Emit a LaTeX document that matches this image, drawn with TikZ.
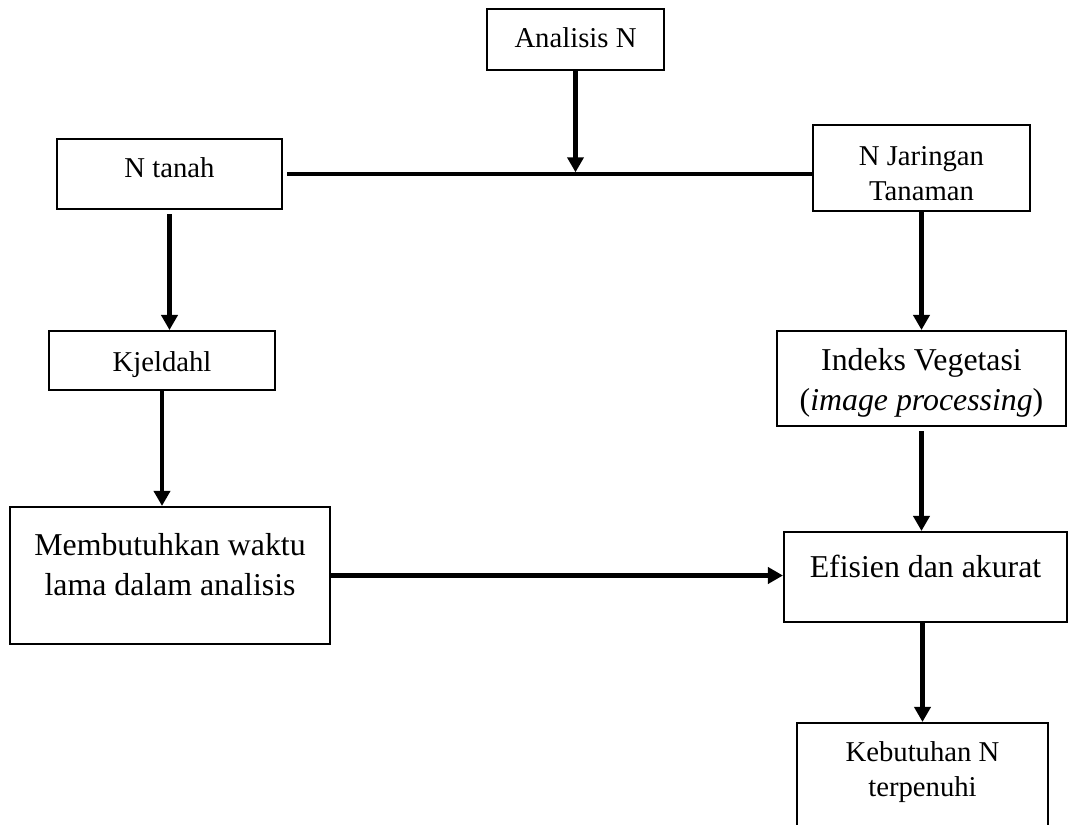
\documentclass[tikz,border=0pt]{standalone}
\usepackage{fontspec}
\setmainfont{Liberation Serif}
\usetikzlibrary{arrows.meta}

\begin{document}
\begin{tikzpicture}[
            x=0.418pt, y=-0.418pt,
            block/.style={rectangle, draw, line width=0.85pt, inner sep=0pt, align=center, font=\fontsize{12}{14.6}\selectfont},
            bigblock/.style={block, font=\fontsize{13.3}{16.7}\selectfont},
            arr/.style={-{Triangle[width=6.7pt,length=6.3pt]}, line width=1.7pt},
            link/.style={line width=1.5pt}
        ]
            \useasboundingbox (0,0) rectangle (1070,825);

            \node[block, minimum width=74pt, text height=16.3pt, text depth=9.2pt] (analisis) at (575.5,39.5) {Analisis N};
            \node[block, minimum width=94.1pt, text height=16.3pt, text depth=13pt] (ntanah) at (169.5,174) {N tanah};
            \node[block, minimum width=90.7pt, text height=31.4pt, text depth=4.6pt] (njaringan) at (921.5,168) {N Jaringan\\Tanaman};
            \node[block, minimum width=94.5pt, text height=16.7pt, text depth=7.9pt] (kjeldahl) at (162,360.5) {Kjeldahl};
            \node[bigblock, minimum width=120.8pt, text height=33.4pt, text depth=6.3pt] (indeks) at (921.5,378.5) {Indeks Vegetasi\\(\textit{image processing})};
            \node[bigblock, minimum width=133.8pt, text height=36.8pt, text depth=20.5pt] (membutuhkan) at (170,575.5) {Membutuhkan waktu\\lama dalam analisis};
            \node[bigblock, minimum width=118.3pt, text height=18.8pt, text depth=18.8pt] (efisien) at (925.5,577) {Efisien dan akurat};
            \node[block, minimum width=104.9pt, text height=30.9pt, text depth=13pt] (kebutuhan) at (922.5,775.5) {Kebutuhan N\\terpenuhi};

            \draw[link, shorten <=1.7pt] (ntanah.east) -- (ntanah.east -| njaringan.west);
            \draw[arr, shorten >=0.7pt] (analisis) -- (analisis |- ntanah.east);
            \draw[arr, shorten <=1.7pt] (ntanah.south) -- (ntanah.south |- kjeldahl.north);
            \draw[arr] (kjeldahl.south) -- (kjeldahl.south |- membutuhkan.north);
            \draw[arr] (njaringan) -- (indeks);
            \draw[arr, shorten <=1.7pt] (indeks.south) -- (indeks.south |- efisien.north);
            \draw[arr] (membutuhkan.east) -- (membutuhkan.east -| efisien.west);
            \draw[arr] (kebutuhan.north |- efisien.south) -- (kebutuhan.north);
        \end{tikzpicture}
\end{document}
